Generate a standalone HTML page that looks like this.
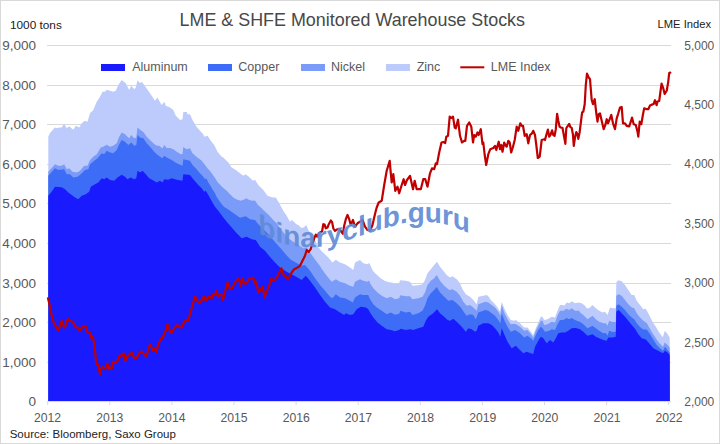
<!DOCTYPE html>
<html><head><meta charset="utf-8"><title>LME &amp; SHFE Monitored Warehouse Stocks</title>
<style>html,body{margin:0;padding:0;background:#fff;}body{width:720px;height:444px;overflow:hidden;}svg{display:block;}text{font-family:"Liberation Sans",sans-serif;}</style></head><body>
<svg width="720" height="444" viewBox="0 0 720 444">
<rect x="0" y="0" width="720" height="444" fill="#ffffff"/>
<rect x="0.5" y="0.5" width="719" height="443" fill="none" stroke="#d9d9d9" stroke-width="1"/>
<rect x="47" y="45" width="624" height="1" fill="#d9d9d9"/>
<rect x="47" y="85" width="624" height="1" fill="#d9d9d9"/>
<rect x="47" y="124" width="624" height="1" fill="#d9d9d9"/>
<rect x="47" y="164" width="624" height="1" fill="#d9d9d9"/>
<rect x="47" y="203" width="624" height="1" fill="#d9d9d9"/>
<rect x="47" y="243" width="624" height="1" fill="#d9d9d9"/>
<rect x="47" y="283" width="624" height="1" fill="#d9d9d9"/>
<rect x="47" y="322" width="624" height="1" fill="#d9d9d9"/>
<rect x="47" y="362" width="624" height="1" fill="#d9d9d9"/>
<rect x="47" y="401" width="624" height="1" fill="#d9d9d9"/>
<path d="M48.3,401.0 L48.3,136.7 L50.0,133.0 L55.0,127.5 L56.7,128.3 L59.2,127.5 L61.7,127.5 L64.2,123.7 L66.7,128.3 L69.2,126.3 L73.3,129.7 L75.8,125.8 L79.2,127.5 L81.7,123.3 L85.0,120.8 L87.5,121.7 L90.0,113.3 L93.3,110.0 L96.7,101.7 L100.0,96.7 L102.5,91.7 L105.0,91.7 L106.7,89.7 L110.0,90.8 L113.3,91.7 L115.8,90.8 L118.3,85.0 L121.7,80.0 L124.2,82.0 L125.8,83.3 L129.2,90.0 L131.3,85.8 L134.2,89.2 L135.8,87.5 L137.5,80.3 L140.0,83.3 L141.7,81.7 L144.2,85.0 L148.3,90.8 L151.7,95.8 L155.0,100.8 L157.5,97.5 L159.2,100.8 L161.7,105.0 L164.2,101.7 L165.8,105.8 L170.0,107.5 L173.3,110.0 L175.8,115.8 L180.0,120.0 L182.5,119.2 L183.3,112.0 L186.7,112.0 L187.5,114.2 L190.0,114.2 L192.5,120.0 L195.8,125.8 L200.0,130.8 L203.3,134.2 L204.2,136.7 L207.5,135.8 L210.8,140.8 L214.2,145.0 L217.5,151.7 L221.7,156.7 L223.3,157.5 L228.3,162.5 L231.7,167.5 L235.8,170.0 L240.0,173.3 L243.3,175.8 L245.4,174.2 L248.3,176.3 L251.7,179.6 L253.3,180.8 L255.0,179.7 L258.3,185.0 L263.3,190.0 L267.5,195.8 L272.5,197.5 L275.8,197.5 L279.2,203.3 L283.3,210.8 L286.7,215.8 L290.0,221.7 L291.7,220.0 L294.2,222.0 L296.3,224.2 L298.3,225.0 L300.8,227.5 L302.5,228.0 L304.6,226.7 L306.3,225.0 L307.5,228.0 L308.8,230.8 L310.8,233.3 L315.0,240.0 L318.3,247.3 L321.7,251.2 L323.3,252.8 L328.3,257.5 L332.5,262.5 L335.8,259.7 L340.0,262.5 L345.0,264.2 L350.0,267.5 L353.3,270.0 L355.0,262.5 L360.0,260.0 L363.3,263.3 L367.5,264.2 L369.0,263.0 L370.0,264.5 L373.0,271.0 L377.0,275.0 L381.0,278.5 L385.0,281.0 L390.0,282.5 L391.7,282.5 L395.0,283.7 L399.2,283.3 L400.0,280.3 L405.8,280.8 L410.0,281.7 L412.5,285.8 L418.3,285.3 L422.5,284.2 L425.0,280.0 L427.5,273.3 L430.8,269.2 L434.2,265.0 L437.0,261.7 L440.0,266.7 L443.3,270.8 L446.7,275.0 L450.0,277.5 L452.5,276.3 L456.7,279.2 L460.0,283.3 L462.5,289.2 L465.8,294.2 L470.0,296.7 L473.3,300.0 L476.7,304.2 L478.3,296.7 L483.3,295.8 L486.7,295.0 L488.5,296.5 L490.8,300.0 L494.2,303.3 L497.5,307.5 L500.0,311.7 L501.7,301.7 L504.2,308.3 L507.5,315.0 L510.8,320.0 L514.2,320.8 L515.8,320.0 L520.0,323.3 L524.2,327.5 L527.5,327.5 L530.8,331.7 L533.3,335.0 L535.8,328.3 L538.3,322.5 L540.8,316.7 L542.5,316.7 L544.2,320.0 L547.5,319.2 L551.7,316.7 L555.0,317.5 L557.5,310.8 L560.0,305.0 L562.5,305.0 L564.2,305.8 L566.7,302.5 L569.2,303.3 L571.7,301.3 L575.0,303.3 L578.3,302.5 L581.7,303.3 L585.0,305.8 L586.7,308.3 L589.2,308.3 L592.5,305.0 L595.8,308.3 L599.2,310.8 L602.5,312.5 L605.0,311.7 L607.5,315.0 L610.0,307.5 L612.5,308.3 L615.8,308.3 L616.3,282.5 L618.3,280.3 L621.7,281.3 L625.0,285.0 L628.3,290.0 L631.7,295.0 L634.2,295.0 L636.7,300.8 L640.0,305.0 L643.3,309.2 L645.8,308.7 L649.2,315.0 L652.5,321.7 L655.8,326.7 L659.2,332.5 L662.8,337.2 L664.8,330.8 L667.5,334.0 L669.7,337.5 L669.8,401.0 Z" fill="#bccbfb"/>
<path d="M48.3,401.0 L48.3,171.7 L55.0,164.2 L58.3,165.8 L61.7,165.8 L64.2,164.2 L66.7,169.2 L69.2,168.3 L72.5,171.7 L76.7,172.5 L80.0,170.8 L84.2,165.8 L87.5,165.8 L90.0,160.0 L93.3,156.7 L96.7,154.2 L100.8,147.5 L103.3,146.7 L106.7,144.7 L110.0,146.7 L113.3,145.8 L116.7,143.3 L119.2,136.7 L121.7,132.5 L125.0,134.2 L127.5,136.7 L129.2,138.3 L131.3,135.0 L134.2,138.3 L136.3,137.5 L137.5,127.5 L140.0,129.8 L143.3,132.0 L146.7,136.7 L150.0,140.0 L153.3,143.3 L156.7,145.8 L159.2,145.8 L162.5,148.5 L164.2,145.0 L166.7,148.0 L170.0,148.0 L173.3,149.2 L176.7,151.7 L180.8,154.2 L182.5,154.0 L183.3,147.0 L186.7,149.2 L190.0,148.2 L192.5,153.3 L196.7,157.0 L201.7,160.8 L205.0,165.0 L208.3,169.2 L209.2,170.0 L211.7,173.3 L215.0,177.9 L217.5,182.1 L220.8,185.4 L224.2,188.8 L226.7,190.8 L230.0,194.2 L233.3,197.5 L236.7,199.6 L240.8,200.8 L244.2,199.6 L246.3,198.3 L249.2,200.0 L252.5,200.8 L255.0,200.4 L258.0,205.0 L261.7,208.3 L263.3,210.0 L268.3,214.5 L273.3,220.0 L276.7,223.3 L280.0,228.3 L284.2,233.3 L288.3,238.3 L293.3,241.7 L298.3,245.0 L303.3,248.3 L306.7,247.5 L310.0,252.5 L315.0,259.5 L320.0,266.0 L321.7,269.0 L326.7,275.8 L331.7,281.7 L335.8,279.2 L340.0,281.7 L345.0,283.3 L350.0,285.8 L353.3,286.7 L355.0,281.7 L360.0,279.2 L363.3,280.8 L367.5,281.7 L369.2,280.5 L370.0,283.3 L373.3,288.3 L377.5,292.5 L381.7,295.8 L386.7,298.3 L390.8,296.7 L395.0,299.2 L399.2,298.3 L400.3,295.3 L405.8,296.3 L410.0,296.3 L412.5,299.2 L418.3,298.3 L422.5,296.7 L425.0,292.5 L427.5,285.0 L430.8,280.8 L434.2,278.3 L436.7,275.0 L440.0,280.8 L444.2,285.8 L449.2,290.0 L452.5,289.2 L456.7,291.7 L460.0,295.8 L463.3,301.7 L466.7,305.8 L470.0,305.0 L473.3,307.5 L476.7,310.8 L478.3,304.2 L483.3,302.5 L485.0,301.7 L488.3,302.5 L491.7,305.0 L495.0,307.5 L498.3,311.7 L500.3,315.8 L501.7,305.0 L504.2,312.5 L507.5,319.2 L510.8,324.2 L515.0,323.7 L520.0,326.7 L524.2,330.8 L527.5,330.0 L530.8,334.2 L533.3,337.5 L535.8,330.8 L538.3,325.8 L540.8,320.8 L542.5,320.8 L544.2,325.0 L547.5,324.2 L551.7,321.7 L555.0,322.5 L557.5,315.8 L560.0,310.8 L563.3,310.8 L566.7,308.7 L569.2,310.0 L571.7,308.3 L575.0,310.8 L579.2,310.8 L580.0,312.5 L583.3,315.0 L587.5,319.2 L592.5,315.8 L595.8,319.2 L599.2,321.7 L603.3,323.3 L605.8,323.3 L607.5,325.8 L609.2,320.8 L612.5,322.0 L615.8,322.0 L616.3,295.8 L618.7,294.2 L621.7,295.8 L625.0,300.0 L628.3,304.2 L631.7,307.5 L634.2,308.3 L636.7,313.3 L640.0,317.5 L643.3,320.8 L646.7,323.0 L649.2,327.5 L652.5,333.3 L655.8,338.3 L659.2,343.0 L663.0,346.7 L664.7,342.5 L667.5,345.0 L669.7,347.5 L669.8,401.0 Z" fill="#7b9bf8"/>
<path d="M48.3,401.0 L48.3,175.8 L55.0,168.3 L58.3,170.0 L64.2,169.2 L66.7,174.2 L70.0,174.2 L73.3,177.5 L77.5,176.7 L80.8,174.2 L85.0,170.0 L88.3,169.2 L90.0,164.2 L94.2,160.8 L97.5,158.3 L101.7,153.3 L104.2,154.2 L106.7,150.8 L110.0,152.5 L113.3,153.3 L116.7,150.0 L119.2,144.2 L121.7,140.0 L125.0,141.7 L128.3,145.0 L131.3,142.5 L134.2,145.8 L136.3,145.0 L137.5,135.0 L140.0,137.5 L143.3,138.3 L146.7,143.3 L150.0,146.7 L153.3,150.8 L156.7,154.2 L160.0,156.7 L162.5,158.3 L164.2,155.8 L166.7,157.5 L171.7,160.0 L176.7,163.3 L182.5,165.8 L183.3,159.2 L190.0,160.8 L192.5,165.0 L196.7,169.2 L197.1,170.0 L200.0,173.3 L203.3,176.7 L205.0,179.2 L206.3,178.3 L208.3,182.5 L210.4,185.8 L212.5,189.6 L215.0,193.3 L216.7,197.1 L219.2,200.8 L221.7,204.2 L224.2,207.0 L228.3,209.5 L233.3,213.0 L240.0,217.8 L245.8,216.3 L250.0,219.2 L255.0,220.0 L258.3,224.2 L263.3,229.2 L268.3,234.2 L273.3,240.0 L276.7,244.0 L281.7,249.5 L286.7,255.5 L290.8,259.8 L296.7,263.0 L301.7,265.8 L305.0,265.0 L310.0,270.8 L315.0,278.3 L320.0,285.0 L325.0,290.8 L330.0,296.7 L332.5,298.3 L335.8,294.2 L340.0,297.5 L345.0,298.3 L350.0,300.8 L352.8,302.5 L355.0,297.5 L360.0,294.2 L363.3,295.0 L368.3,295.0 L370.0,299.2 L373.3,304.2 L376.7,307.5 L381.7,310.8 L386.7,314.2 L390.8,312.5 L395.0,314.7 L399.2,313.7 L400.5,310.8 L405.8,312.5 L410.0,311.7 L412.5,315.0 L418.3,313.3 L422.5,310.8 L425.0,305.8 L427.5,298.3 L430.8,293.3 L434.2,290.0 L436.7,287.0 L440.0,292.5 L444.2,296.7 L448.3,300.8 L452.5,300.0 L456.7,303.3 L460.8,307.5 L464.2,312.5 L466.7,315.8 L470.0,314.2 L473.3,315.0 L475.8,319.2 L478.3,312.5 L483.3,310.8 L485.0,310.0 L488.3,310.8 L491.7,313.3 L495.0,315.8 L498.3,320.0 L500.3,323.3 L501.7,313.3 L504.2,320.0 L507.5,326.7 L510.8,331.7 L515.0,330.0 L520.0,333.3 L524.2,337.5 L527.5,335.8 L530.8,338.3 L533.3,340.8 L535.8,335.0 L538.3,330.0 L540.8,326.7 L542.5,328.3 L545.0,331.7 L549.2,330.8 L551.7,329.2 L555.0,330.0 L557.5,324.2 L560.0,320.0 L563.3,320.0 L566.7,318.0 L569.2,319.2 L571.7,318.0 L575.0,320.0 L579.2,321.7 L580.0,321.7 L583.3,324.2 L587.5,328.3 L592.5,325.8 L595.8,328.3 L599.2,330.8 L603.3,333.3 L605.8,333.0 L607.5,335.8 L609.2,330.8 L612.5,332.0 L615.8,331.7 L616.3,305.8 L618.7,304.2 L621.7,306.7 L625.0,310.0 L628.3,314.2 L631.7,317.5 L634.2,319.2 L636.7,323.3 L640.0,327.0 L643.3,329.6 L646.7,329.6 L650.0,334.2 L653.3,339.6 L656.7,345.0 L660.0,348.3 L663.0,350.8 L665.0,346.7 L667.5,350.0 L669.7,352.5 L669.8,401.0 Z" fill="#3d6cf7"/>
<path d="M48.3,401.0 L48.3,195.8 L51.7,191.7 L55.0,186.7 L61.7,187.2 L65.0,189.2 L68.3,192.5 L71.7,195.0 L75.0,197.5 L78.3,199.2 L81.7,195.8 L85.8,194.2 L89.2,191.7 L90.8,186.7 L95.0,184.2 L98.3,182.5 L101.7,178.3 L104.2,179.2 L106.7,177.5 L110.0,180.0 L114.2,180.8 L117.5,177.5 L121.7,174.7 L125.0,176.7 L127.5,179.2 L130.8,177.5 L134.2,179.2 L136.3,178.3 L137.5,170.8 L140.0,172.5 L142.5,170.8 L145.8,174.2 L149.2,178.3 L152.5,180.0 L156.7,182.5 L160.0,180.8 L162.5,182.5 L164.2,179.2 L168.3,179.7 L171.7,178.3 L176.7,179.7 L182.5,180.8 L183.3,174.2 L190.0,175.0 L192.5,178.3 L195.0,181.3 L198.3,185.0 L201.7,188.3 L204.2,191.7 L205.8,190.8 L208.3,195.0 L210.4,198.8 L212.5,202.5 L215.0,206.7 L218.3,210.8 L223.3,217.5 L226.7,221.7 L231.7,227.5 L236.7,233.3 L241.7,238.3 L246.7,236.7 L251.7,239.2 L255.8,240.0 L260.0,246.7 L265.0,250.8 L270.0,257.0 L275.0,262.5 L280.0,267.5 L286.7,271.7 L291.7,274.2 L297.5,277.5 L301.7,280.0 L305.8,275.8 L310.0,280.8 L315.0,287.5 L320.0,295.0 L325.0,301.7 L330.0,307.5 L335.0,309.2 L340.0,312.5 L344.2,315.0 L345.8,313.3 L350.0,315.0 L353.3,314.2 L356.7,309.2 L360.8,306.7 L365.8,307.5 L368.3,309.2 L370.0,312.5 L373.3,317.5 L377.5,322.5 L381.7,325.8 L386.7,329.2 L390.8,330.0 L395.0,331.3 L399.2,330.0 L400.8,328.7 L405.8,330.0 L410.0,329.2 L413.3,330.0 L418.3,328.3 L423.3,326.7 L425.8,320.8 L428.3,316.7 L433.3,313.3 L437.0,309.2 L440.0,313.3 L444.2,316.7 L447.5,320.0 L450.0,320.8 L453.3,318.7 L457.5,322.5 L461.7,326.7 L465.8,331.7 L468.3,328.3 L471.7,329.2 L475.0,331.7 L476.7,330.8 L478.3,325.8 L483.3,323.3 L485.0,323.3 L488.3,323.3 L491.7,325.0 L495.0,328.3 L498.3,332.5 L500.3,336.7 L501.7,328.3 L504.2,334.2 L507.5,341.7 L511.7,348.3 L515.8,345.8 L519.2,349.2 L523.3,353.3 L526.7,351.7 L530.8,353.3 L533.3,354.0 L535.0,346.7 L538.3,340.8 L540.8,336.7 L543.3,338.3 L546.7,343.3 L550.0,340.0 L553.3,342.5 L555.8,338.3 L558.3,333.3 L561.7,332.5 L565.0,332.5 L568.3,330.8 L571.7,328.3 L575.8,328.0 L580.0,329.2 L583.3,331.7 L587.5,335.8 L592.5,334.2 L595.8,336.7 L599.2,338.3 L603.3,340.0 L606.7,340.8 L608.3,337.5 L612.5,337.5 L615.8,336.7 L616.3,311.7 L618.7,310.0 L621.7,313.3 L625.0,316.7 L628.3,320.8 L631.7,325.0 L635.0,328.8 L638.3,334.2 L641.7,338.3 L645.8,339.6 L649.2,343.3 L653.3,348.3 L656.7,350.0 L660.0,351.7 L663.0,353.3 L665.0,350.8 L667.5,352.5 L669.7,355.0 L669.8,401.0 Z" fill="#1a1aff"/>
<rect x="47" y="401" width="624" height="1" fill="#d9d9d9"/>
<rect x="47.2" y="401" width="1" height="4" fill="#d9d9d9"/>
<rect x="109.3" y="401" width="1" height="4" fill="#d9d9d9"/>
<rect x="171.4" y="401" width="1" height="4" fill="#d9d9d9"/>
<rect x="233.5" y="401" width="1" height="4" fill="#d9d9d9"/>
<rect x="295.6" y="401" width="1" height="4" fill="#d9d9d9"/>
<rect x="357.7" y="401" width="1" height="4" fill="#d9d9d9"/>
<rect x="419.8" y="401" width="1" height="4" fill="#d9d9d9"/>
<rect x="481.9" y="401" width="1" height="4" fill="#d9d9d9"/>
<rect x="544.0" y="401" width="1" height="4" fill="#d9d9d9"/>
<rect x="606.1" y="401" width="1" height="4" fill="#d9d9d9"/>
<rect x="668.2" y="401" width="1" height="4" fill="#d9d9d9"/>
<path d="M48.0,298.3 L49.2,303.3 L50.8,311.7 L52.5,318.3 L54.2,324.2 L56.7,327.5 L58.3,330.8 L61.7,320.8 L63.3,325.8 L65.0,327.5 L66.7,320.8 L68.0,319.2 L70.0,320.8 L72.5,321.7 L74.2,324.2 L75.8,327.5 L78.0,327.5 L79.7,330.8 L82.5,326.7 L85.8,326.5 L87.5,332.5 L89.7,332.5 L91.5,338.8 L92.8,337.0 L94.2,343.3 L95.3,353.3 L96.3,365.0 L98.3,365.0 L100.0,374.2 L101.3,368.3 L102.5,366.7 L104.2,368.3 L106.3,367.5 L107.5,363.3 L108.7,369.2 L110.3,367.5 L111.7,368.7 L113.3,361.7 L115.0,363.0 L117.5,360.8 L119.7,355.3 L121.3,356.3 L123.7,353.3 L125.3,360.8 L127.0,356.7 L129.2,355.0 L132.0,352.5 L134.2,358.3 L136.7,358.0 L139.2,353.3 L141.3,351.3 L144.2,354.2 L146.3,356.7 L150.0,344.2 L153.0,350.3 L154.7,348.7 L156.3,352.5 L158.3,344.2 L160.8,339.2 L162.8,337.5 L165.0,331.7 L166.3,330.0 L167.5,324.2 L169.2,329.2 L171.3,333.0 L174.2,328.3 L177.5,325.0 L180.0,327.5 L181.7,327.5 L184.2,321.7 L186.5,319.8 L188.0,320.8 L190.0,314.2 L192.5,305.0 L195.0,296.3 L197.0,300.8 L199.7,303.3 L201.7,300.0 L203.0,297.5 L203.7,300.0 L204.7,296.3 L206.7,300.0 L209.2,296.3 L211.7,298.3 L213.3,294.2 L215.0,294.7 L216.3,290.8 L218.0,296.7 L220.0,294.2 L221.3,294.2 L223.0,300.0 L225.0,291.7 L227.5,282.5 L230.0,289.2 L232.0,288.3 L235.0,282.5 L238.0,278.7 L239.7,280.8 L240.8,285.8 L242.5,278.3 L244.2,283.3 L246.7,283.3 L249.7,278.3 L251.7,279.2 L253.3,277.5 L254.7,283.3 L256.3,281.7 L258.3,292.5 L260.0,290.8 L262.5,286.7 L264.7,297.5 L266.7,290.8 L268.7,287.5 L271.3,278.7 L273.3,280.8 L275.8,279.2 L278.3,275.0 L281.3,268.3 L283.3,274.2 L285.8,276.7 L288.3,279.2 L291.7,272.5 L294.2,269.2 L297.5,267.5 L300.0,265.8 L302.5,260.8 L305.0,255.8 L306.7,250.0 L308.7,252.0 L310.8,248.8 L312.5,243.3 L314.2,238.3 L315.8,234.6 L317.1,236.7 L319.2,232.9 L322.1,231.3 L323.3,224.2 L324.6,224.6 L325.8,228.3 L327.5,227.5 L328.8,224.2 L330.8,220.4 L332.1,222.1 L333.3,228.3 L335.0,230.8 L336.7,229.6 L339.2,228.8 L341.3,231.7 L342.9,233.8 L344.2,225.8 L345.8,219.2 L347.5,215.0 L349.2,219.2 L350.8,225.0 L353.0,220.0 L355.0,226.7 L357.5,223.3 L360.0,221.7 L362.5,220.0 L365.0,226.7 L367.5,230.0 L370.0,230.8 L372.5,225.0 L374.2,217.5 L375.5,212.0 L376.7,207.5 L378.7,202.5 L381.7,200.8 L384.2,185.0 L386.7,170.8 L389.7,160.8 L390.8,173.3 L391.7,182.5 L393.3,174.2 L395.3,190.8 L397.5,186.7 L399.2,193.3 L401.7,185.0 L403.7,179.2 L405.0,185.0 L407.0,180.0 L410.0,175.8 L413.0,189.2 L414.7,180.8 L416.7,189.2 L420.8,189.2 L423.3,179.2 L425.3,179.2 L427.5,186.7 L430.0,173.3 L432.0,168.3 L434.2,169.2 L435.8,163.3 L437.0,164.2 L439.2,152.5 L441.5,142.5 L443.3,142.0 L445.2,143.0 L446.3,136.7 L448.0,135.8 L449.7,116.7 L451.3,118.0 L453.0,116.7 L454.7,127.5 L455.8,128.3 L458.0,119.7 L460.0,135.8 L462.0,142.5 L464.2,140.8 L465.3,140.8 L467.0,125.8 L469.2,122.5 L471.3,126.7 L473.0,142.5 L474.2,135.0 L475.8,136.7 L477.5,132.5 L478.7,135.0 L480.8,129.2 L482.5,144.2 L483.3,142.5 L484.7,155.0 L486.2,165.0 L488.3,154.2 L490.3,149.2 L493.3,148.0 L495.0,145.8 L496.3,150.0 L498.7,141.7 L500.0,149.2 L501.3,145.0 L502.5,151.7 L504.2,142.5 L505.3,145.0 L506.7,146.7 L508.3,140.8 L509.7,142.5 L511.2,152.5 L512.8,147.5 L514.7,140.0 L516.7,126.7 L518.3,130.8 L520.3,123.3 L521.7,125.8 L523.0,125.8 L524.7,135.8 L526.7,134.2 L528.3,143.3 L530.0,135.0 L532.0,133.3 L533.3,130.8 L535.0,135.0 L536.3,145.0 L537.8,158.0 L539.7,156.7 L541.7,140.0 L544.2,139.2 L545.0,140.0 L546.3,135.0 L547.9,129.6 L549.2,136.7 L550.4,135.0 L552.1,130.4 L553.3,135.0 L554.6,135.8 L555.8,129.2 L557.1,113.8 L558.3,120.8 L559.6,126.7 L560.8,127.5 L562.5,127.9 L563.8,135.0 L565.4,143.8 L566.3,128.3 L567.5,126.3 L569.2,123.8 L570.4,127.1 L571.7,127.9 L572.9,134.2 L573.8,145.8 L575.0,137.5 L576.3,132.1 L577.5,134.2 L578.3,138.8 L579.6,132.5 L580.8,122.9 L582.1,112.5 L583.3,111.7 L584.7,104.2 L585.8,85.0 L587.0,73.7 L588.7,77.5 L590.0,79.2 L591.7,100.0 L593.0,104.2 L594.7,99.2 L596.3,113.3 L597.5,121.7 L598.7,114.2 L600.0,113.3 L601.7,120.8 L603.7,129.2 L605.3,125.0 L606.7,119.2 L608.0,123.3 L610.0,118.3 L611.3,115.0 L613.0,123.3 L615.0,129.2 L616.7,118.3 L618.3,113.3 L620.0,107.5 L621.7,107.0 L623.0,123.3 L625.0,123.3 L626.7,125.8 L629.2,126.3 L630.8,121.7 L632.0,117.5 L633.7,124.2 L635.8,125.0 L637.5,131.7 L638.3,136.7 L639.7,121.7 L641.3,124.2 L643.0,114.2 L644.2,108.3 L646.7,109.2 L648.3,109.2 L650.0,105.5 L652.0,104.6 L653.6,104.0 L655.0,100.2 L656.6,105.1 L657.6,101.5 L659.2,101.0 L660.4,92.0 L661.6,83.5 L663.3,88.4 L664.7,94.0 L666.8,90.5 L668.2,82.1 L669.2,73.0 L670.3,72.6" fill="none" stroke="#c00000" stroke-width="2.2" stroke-linejoin="round" stroke-linecap="round"/>
<g font-size="28" font-weight="bold" fill="#608ad6" fill-opacity="0.92">
<text transform="translate(258.30,233.15) skewY(24.48)">b</text>
<text transform="translate(275.41,240.94) skewY(19.31)">i</text>
<text transform="translate(283.19,243.67) skewY(11.12)">n</text>
<text transform="translate(300.30,247.03) skewY(0.65)">a</text>
<text transform="translate(315.87,247.21) skewY(-8.02)">r</text>
<text transform="translate(326.76,245.67) skewY(-14.03)">y</text>
<text transform="translate(342.33,241.78) skewY(-17.66)">c</text>
<text transform="translate(357.90,236.82) skewY(-18.35)">l</text>
<text transform="translate(365.68,234.24) skewY(-18.17)">u</text>
<text transform="translate(382.79,228.63) skewY(-15.12)">b</text>
<text transform="translate(399.90,224.00) skewY(-11.73)">.</text>
<text transform="translate(407.68,222.39) skewY(-2.91)">g</text>
<text transform="translate(424.79,221.52) skewY(6.27)">u</text>
<text transform="translate(441.90,223.40) skewY(15.60)">r</text>
<text transform="translate(452.79,226.44) skewY(22.30)">u</text>
</g>
<text x="352.3" y="25.8" font-size="17.9" fill="#484848" text-anchor="middle">LME &amp; SHFE Monitored Warehouse Stocks</text>
<text x="10" y="29.3" font-size="11.8" fill="#1a1a1a">1000 tons</text>
<text x="711" y="28.3" font-size="11.2" fill="#1a1a1a" text-anchor="end">LME Index</text>
<text x="36.1" y="50.1" font-size="13.5" fill="#595959" text-anchor="end">9,000</text>
<text x="36.1" y="90.1" font-size="13.5" fill="#595959" text-anchor="end">8,000</text>
<text x="36.1" y="129.1" font-size="13.5" fill="#595959" text-anchor="end">7,000</text>
<text x="36.1" y="169.1" font-size="13.5" fill="#595959" text-anchor="end">6,000</text>
<text x="36.1" y="208.1" font-size="13.5" fill="#595959" text-anchor="end">5,000</text>
<text x="36.1" y="248.1" font-size="13.5" fill="#595959" text-anchor="end">4,000</text>
<text x="36.1" y="288.1" font-size="13.5" fill="#595959" text-anchor="end">3,000</text>
<text x="36.1" y="327.1" font-size="13.5" fill="#595959" text-anchor="end">2,000</text>
<text x="36.1" y="367.1" font-size="13.5" fill="#595959" text-anchor="end">1,000</text>
<text x="36.1" y="406.1" font-size="13.5" fill="#595959" text-anchor="end">0</text>
<text x="714.3" y="49.5" font-size="12" fill="#595959" text-anchor="end">5,000</text>
<text x="714.3" y="108.9" font-size="12" fill="#595959" text-anchor="end">4,500</text>
<text x="714.3" y="168.3" font-size="12" fill="#595959" text-anchor="end">4,000</text>
<text x="714.3" y="227.7" font-size="12" fill="#595959" text-anchor="end">3,500</text>
<text x="714.3" y="287.1" font-size="12" fill="#595959" text-anchor="end">3,000</text>
<text x="714.3" y="346.5" font-size="12" fill="#595959" text-anchor="end">2,500</text>
<text x="714.3" y="405.9" font-size="12" fill="#595959" text-anchor="end">2,000</text>
<text x="47.6" y="422" font-size="12.2" fill="#595959" text-anchor="middle">2012</text>
<text x="109.8" y="422" font-size="12.2" fill="#595959" text-anchor="middle">2013</text>
<text x="171.9" y="422" font-size="12.2" fill="#595959" text-anchor="middle">2014</text>
<text x="234.0" y="422" font-size="12.2" fill="#595959" text-anchor="middle">2015</text>
<text x="296.2" y="422" font-size="12.2" fill="#595959" text-anchor="middle">2016</text>
<text x="358.4" y="422" font-size="12.2" fill="#595959" text-anchor="middle">2017</text>
<text x="420.5" y="422" font-size="12.2" fill="#595959" text-anchor="middle">2018</text>
<text x="482.7" y="422" font-size="12.2" fill="#595959" text-anchor="middle">2019</text>
<text x="544.8" y="422" font-size="12.2" fill="#595959" text-anchor="middle">2020</text>
<text x="607.0" y="422" font-size="12.2" fill="#595959" text-anchor="middle">2021</text>
<text x="669.1" y="422" font-size="12.2" fill="#595959" text-anchor="middle">2022</text>
<text x="9.7" y="437.5" font-size="11.5" fill="#222222">Source: Bloomberg, Saxo Group</text>
<rect x="101.0" y="64" width="24" height="7" fill="#1a1aff"/>
<text x="132.2" y="71.3" font-size="12.5" fill="#595959">Aluminum</text>
<rect x="208.0" y="64" width="24" height="7" fill="#3d6cf7"/>
<text x="238.3" y="71.3" font-size="12.5" fill="#595959">Copper</text>
<rect x="301.0" y="64" width="24" height="7" fill="#7b9bf8"/>
<text x="331.0" y="71.3" font-size="12.5" fill="#595959">Nickel</text>
<rect x="386.0" y="64" width="24" height="7" fill="#bccbfb"/>
<text x="416.7" y="71.3" font-size="12.5" fill="#595959">Zinc</text>
<rect x="460.3" y="66.3" width="24" height="2" fill="#c00000"/>
<text x="490.8" y="71.3" font-size="12.5" fill="#595959">LME Index</text>
</svg></body></html>
